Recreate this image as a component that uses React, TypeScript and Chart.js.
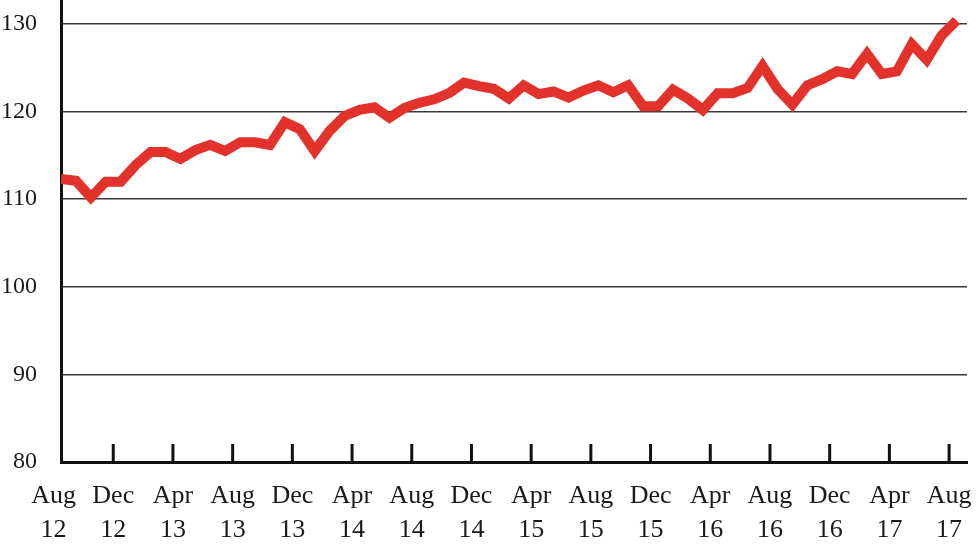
import React, { useEffect, useRef } from "react";
import { Chart, registerables } from "chart.js";

Chart.register(...registerables);

// Monthly index values, Aug 2012 .. Aug 2017
const values = [
  112.3, 112.1, 110.2, 112.0, 112.0, 113.9, 115.4, 115.4, 114.6, 115.6,
  116.2, 115.5, 116.5, 116.5, 116.2, 118.8, 118.0, 115.5, 117.8, 119.5,
  120.2, 120.5, 119.3, 120.4, 121.0, 121.4, 122.1, 123.3, 122.9, 122.6,
  121.5, 123.0, 122.0, 122.3, 121.6, 122.4, 123.0, 122.2, 123.0, 120.6,
  120.6, 122.5, 121.5, 120.2, 122.1, 122.1, 122.7, 125.2, 122.6, 120.8,
  123.0, 123.7, 124.6, 124.3, 126.6, 124.3, 124.6, 127.7, 125.9, 128.7,
  130.4,
];

const tickMonths = ["Aug", "Dec", "Apr", "Aug", "Dec", "Apr", "Aug", "Dec", "Apr", "Aug", "Dec", "Apr", "Aug", "Dec", "Apr", "Aug"];
const tickYears = ["12", "12", "13", "13", "13", "14", "14", "14", "15", "15", "15", "16", "16", "16", "17", "17"];
const yTicks = [80, 90, 100, 110, 120, 130];

const Y_MIN = 80;
const Y_MAX = 132.74;
const X_MAX = 60.7;
const FONT = '"Liberation Serif", "Times New Roman", serif';
const tickPositions = tickMonths.map((_, k) => k * 4 - 0.5);

const innerTicks = {
  id: "innerTicks",
  afterDraw(chart: any) {
    const xs = chart.scales.x;
    const { ctx, chartArea } = chart;
    ctx.save();
    ctx.strokeStyle = "#111";
    ctx.lineWidth = 3;
    xs.ticks.forEach((t: any) => {
      if (t.value <= xs.min) return;
      const px = xs.getPixelForValue(t.value);
      ctx.beginPath();
      ctx.moveTo(px, chartArea.bottom);
      ctx.lineTo(px, chartArea.bottom - 18);
      ctx.stroke();
    });
    ctx.restore();
  },
};

export default function App() {
  const ref = useRef<HTMLCanvasElement | null>(null);

  useEffect(() => {
    if (!ref.current) return;
    const chart = new Chart(ref.current, {
      type: "line",
      data: {
        datasets: [
          {
            data: values.map((v, i) => ({ x: i, y: v })),
            borderColor: "rgb(227, 50, 44)",
            borderWidth: 10,
            pointRadius: 0,
            tension: 0,
            fill: false,
          },
        ],
      },
      options: {
        animation: false,
        responsive: true,
        maintainAspectRatio: false,
        layout: { padding: { left: 0, right: 13, top: 0, bottom: 0 } },
        plugins: { legend: { display: false }, tooltip: { enabled: false } },
        scales: {
          x: {
            type: "linear",
            min: 0,
            max: X_MAX,
            afterBuildTicks: (s: any) => {
              s.ticks = tickPositions.map((v) => ({ value: v }));
            },
            afterFit: (s: any) => {
              s.height = 90;
              s.paddingLeft = 0;
              s.paddingRight = 0;
            },
            grid: { display: false, drawTicks: false },
            border: { display: true, color: "#111", width: 3 },
            ticks: {
              autoSkip: false,
              maxRotation: 0,
              minRotation: 0,
              padding: 17,
              color: "#1a1a1a",
              font: { family: FONT, size: 26, lineHeight: 1.31 },
              callback: (v: any) => {
                const k = Math.round((Number(v) + 0.5) / 4);
                return [tickMonths[k], tickYears[k]];
              },
            },
          },
          y: {
            type: "linear",
            min: Y_MIN,
            max: Y_MAX,
            afterBuildTicks: (s: any) => {
              s.ticks = yTicks.map((v) => ({ value: v }));
            },
            afterFit: (s: any) => {
              s.width = 61;
              s.paddingTop = 0;
              s.paddingBottom = 0;
            },
            grid: { color: "#3a3a3a", lineWidth: 1.5, drawTicks: false },
            border: { display: true, color: "#111", width: 3 },
            ticks: {
              padding: 24,
              color: "#1a1a1a",
              font: { family: FONT, size: 24 },
              callback: (v: any) => String(v),
            },
          },
        },
      },
      plugins: [innerTicks],
    });
    return () => chart.destroy();
  }, []);

  return (
    <div style={{ position: "fixed", left: 0, top: 0, width: 980, height: 552, background: "#fff" }}>
      <canvas ref={ref} />
    </div>
  );
}
